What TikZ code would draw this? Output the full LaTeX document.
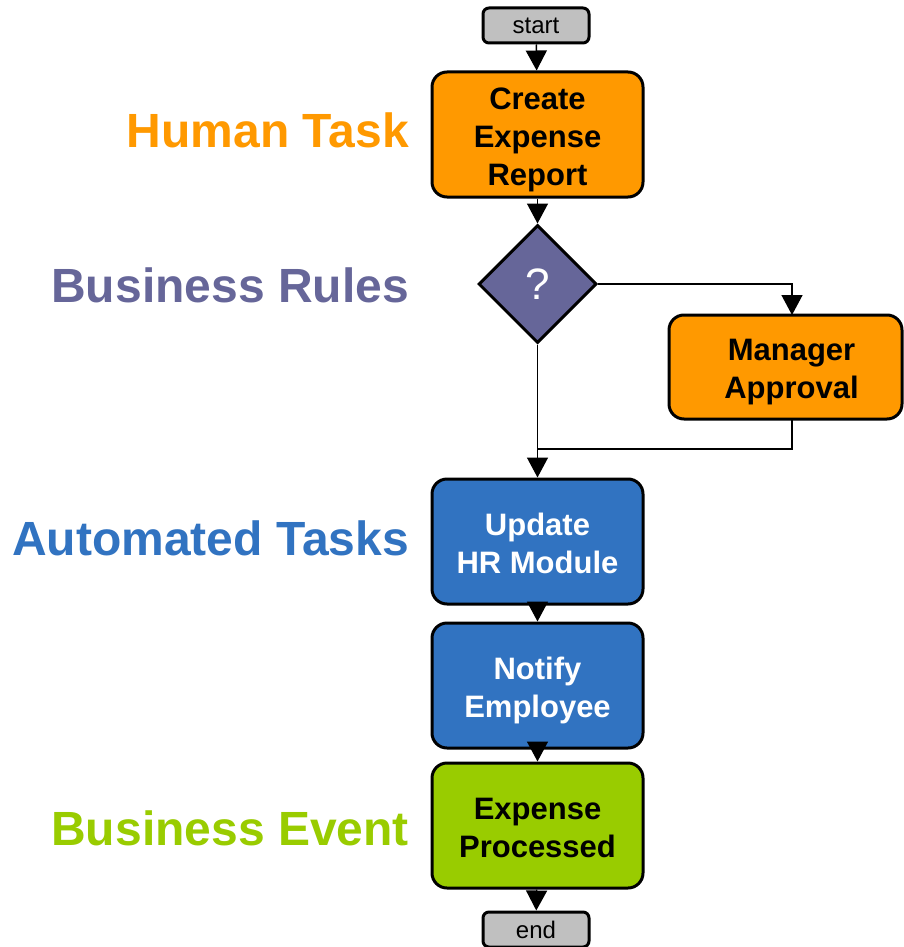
\documentclass[tikz,border=0pt]{standalone}
\usepackage{fontspec}
\setmainfont{Liberation Sans}
\usetikzlibrary{shapes.geometric,arrows.meta}
\definecolor{corange}{HTML}{FF9900}
\definecolor{cpurple}{HTML}{666699}
\definecolor{cblue}{HTML}{3173C1}
\definecolor{cgreen}{HTML}{99CC00}
\definecolor{cgray}{HTML}{C0C0C0}
\newcommand\boxlines[1]{\raisebox{0pt}[\dimexpr\height+10pt\relax][\depth]{\begin{tabular}{@{}c@{}}#1\end{tabular}}}
\tikzset{
  taskbox/.style={draw=black, line width=3pt, rounded corners=15pt, minimum width=211pt, minimum height=125pt, align=center, inner sep=0pt, font=\fontsize{31}{38}\selectfont\bfseries},
  termbox/.style={draw=black, fill=cgray, line width=3pt, rounded corners=6pt, minimum width=106pt, minimum height=35pt, inner sep=0pt, font=\fontsize{24}{28}\selectfont},
  decision/.style={diamond, draw=black, fill=cpurple, line width=3pt, minimum width=118pt, minimum height=118pt, inner sep=0pt, text=white, font=\fontsize{44}{48}\selectfont},
  lanelabel/.style={anchor=base east, inner sep=0pt, font=\fontsize{48}{52}\selectfont\bfseries},
  flow/.style={line width=1.5pt, -{Triangle[length=20pt,width=21pt]}},
  plainline/.style={line width=1.5pt}
}
\begin{document}
\begin{tikzpicture}[x=1pt,y=-1pt]
\useasboundingbox (0,0) rectangle (903,947);
\fill[white] (0,0) rectangle (903,947);
% nodes
\node[termbox] (start) at (536,25.5) {start};
\node[taskbox, fill=corange] (create) at (537.5,134.5) {\boxlines{Create\\Expense\\Report}};
\node[decision] (dec) at (537.5,284) {?};
\node[taskbox, fill=corange, minimum width=233pt, minimum height=104pt] (mgr) at (785.5,367) {\hspace*{12pt}\boxlines{Manager\\Approval}};
\node[taskbox, fill=cblue, text=white] (hr) at (537.5,541.5) {\boxlines{Update\\HR Module}};
\node[taskbox, fill=cblue, text=white] (notify) at (537.5,685.5) {\boxlines{Notify\\Employee}};
\node[taskbox, fill=cgreen] (proc) at (537.5,825.5) {\boxlines{Expense\\Processed}};
\node[termbox] (end) at (536,929.5) {end};
% labels
\node[lanelabel, text=corange] (l1) at (409,147) {Human Task};
\node[lanelabel, text=cpurple] (l2) at (409,302) {Business Rules};
\node[lanelabel, text=cblue] (l3) at (409,555.5) {Automated Tasks};
\node[lanelabel, text=cgreen] (l4) at (409,845) {Business Event};
% connectors
\coordinate (mgrin) at (792,315);
\coordinate (mgrout) at (792,419);
\coordinate (join) at (537.5,449);
\draw[flow] (start) -- (create);
\draw[flow] (create) -- (dec.north);
\draw[flow] (dec.east) -| (mgrin);
\draw[flow] (dec.south) -- (hr.north);
\draw[plainline] (mgrout) |- (join);
\draw[flow] (hr) -- (notify);
\draw[flow] (notify) -- (proc);
\draw[flow] (proc) -- (end);
\end{tikzpicture}
\end{document}
